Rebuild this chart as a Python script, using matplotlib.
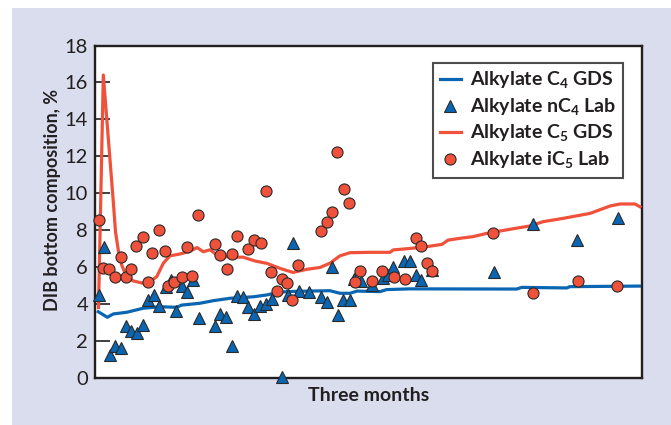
import matplotlib
matplotlib.use("Agg")
import matplotlib.pyplot as plt
from matplotlib.patches import Rectangle

plt.rcParams["font.family"] = ["Lato", "DejaVu Sans"]
plt.rcParams["mathtext.fontset"] = "custom"
plt.rcParams["mathtext.rm"] = "Lato"
plt.rcParams["mathtext.bf"] = "Lato:bold"

RED = "#f0513a"
BLUE = "#0a66b2"
EDGE = "#2a2a2a"
INK = "#231f20"

# Alkylate C4 GDS (continuous analyser trace), day vs %
c4_gds_day = [0.55, 2.07, 3.08, 5.33, 8.12, 10.93, 13.74, 14.58, 17.66, 19.90,
              22.71, 26.62, 28.88, 30.56, 32.24, 36.16, 39.52, 41.20, 42.89,
              44.07, 47.93, 49.06, 52.98, 70.93, 71.77, 79.34, 79.89, 91.55]
c4_gds_val = [3.57, 3.27, 3.45, 3.54, 3.76, 3.84, 3.81, 3.93, 4.03, 4.17,
              4.30, 4.38, 4.48, 4.60, 4.66, 4.69, 4.71, 4.57, 4.57,
              4.69, 4.66, 4.77, 4.81, 4.80, 4.89, 4.86, 4.93, 4.96]

# Alkylate nC4 lab samples
nc4_lab_day = [0.67, 1.56, 2.52, 3.36, 4.32, 5.16, 6.11, 7.01, 8.12, 8.91,
               9.87, 10.81, 11.89, 12.78, 13.62, 14.58, 15.52, 16.43, 17.49,
               20.18, 21.07, 22.03, 23.04, 23.88, 24.94, 25.78, 26.74, 27.75,
               28.71, 29.72, 31.45, 32.51, 33.35, 34.31, 36.04, 38.01, 38.97,
               39.94, 40.82, 41.66, 42.89, 43.61, 44.79, 46.54, 48.39, 49.23,
               50.17, 52.02, 52.98, 53.99, 54.78, 56.73, 67.16, 73.72, 81.15,
               87.91]
nc4_lab_val = [4.48, 7.10, 1.22, 1.73, 1.62, 2.81, 2.53, 2.43, 2.85, 4.21,
               4.48, 3.88, 4.93, 5.29, 3.61, 4.96, 4.66, 5.29, 3.21,
               2.80, 3.43, 3.30, 1.71, 4.42, 4.38, 3.84, 3.43, 3.88,
               3.97, 4.26, 0.05, 4.48, 7.28, 4.69, 4.66, 4.38, 4.11,
               6.00, 3.38, 4.21, 4.21, 5.34, 5.22, 5.02, 5.38, 5.56,
               6.01, 6.32, 6.32, 5.56, 5.29, 5.83, 5.74, 8.32, 7.46,
               8.63]

# Alkylate C5 GDS (continuous analyser trace)
c5_gds_day = [0.59, 1.40, 3.11, 3.45, 3.92, 4.49, 5.33, 6.44, 8.12, 9.25,
              10.38, 11.49, 12.61, 14.30, 15.98, 17.16, 18.22, 19.34, 20.69,
              23.21, 24.89, 26.91, 28.93, 31.11, 33.30, 35.65, 37.84, 39.52,
              41.20, 42.89, 46.25, 49.61, 50.17, 52.98, 55.84, 58.36, 59.37,
              61.39, 63.58, 65.93, 69.80, 73.17, 75.35, 78.72, 83.26, 86.62,
              88.30, 90.82, 91.66]
c5_gds_val = [3.80, 16.40, 9.40, 7.90, 6.90, 6.10, 5.45, 5.24, 5.11, 5.20,
              5.47, 6.20, 6.60, 6.70, 6.85, 7.05, 6.82, 6.93, 6.60,
              6.52, 6.53, 6.32, 6.19, 5.92, 5.70, 5.87, 5.97, 6.20,
              6.60, 6.77, 6.79, 6.79, 6.92, 7.00, 7.10, 7.22, 7.45,
              7.55, 7.64, 7.82, 8.04, 8.22, 8.45, 8.63, 8.90, 9.30,
              9.41, 9.41, 9.26]

# Alkylate iC5 lab samples
ic5_lab_day = [0.72, 1.40, 2.41, 3.36, 4.29, 5.16, 6.05, 6.86, 8.12, 8.88,
               9.64, 10.81, 11.77, 12.24, 13.29, 14.60, 15.42, 16.35, 17.37,
               20.10, 20.97, 22.17, 23.08, 23.92, 25.77, 26.78, 27.87, 28.68,
               29.55, 30.56, 31.40, 32.34, 33.18, 34.09, 37.98, 38.97, 39.93,
               40.65, 41.88, 42.72, 43.78, 44.62, 46.54, 48.27, 50.24, 52.09,
               53.99, 54.88, 55.79, 56.68, 67.02, 73.62, 81.24, 87.74]
ic5_lab_val = [8.54, 5.92, 5.88, 5.44, 6.52, 5.47, 5.90, 7.13, 7.60, 5.20,
               6.74, 8.00, 6.88, 4.98, 5.16, 5.47, 7.10, 5.51, 8.81,
               7.24, 6.64, 5.89, 6.72, 7.66, 6.99, 7.46, 7.27, 10.13,
               5.72, 4.69, 5.33, 5.15, 4.21, 6.10, 7.95, 8.45, 8.99,
               12.23, 10.20, 9.48, 5.20, 5.78, 5.25, 5.80, 5.45, 5.34,
               7.55, 7.13, 6.23, 5.80, 7.86, 4.58, 5.24, 4.96]

y_ticks = [0, 2, 4, 6, 8, 10, 12, 14, 16, 18]

fig = plt.figure(figsize=(6.71, 4.25), dpi=100)
fig.patch.set_facecolor("white")
fig.add_artist(Rectangle((12 / 671, 0), 1 - 12 / 671, 1 - 8 / 425,
                         transform=fig.transFigure, facecolor="#d9dded",
                         edgecolor="none", zorder=-10))

ax = fig.add_axes([95 / 671, 47.4 / 425, 547 / 671, 332.1 / 425])
ax.set_zorder(1)
ax.set_facecolor("white")

ax.plot(c4_gds_day, c4_gds_val, color=BLUE, lw=2.3, zorder=2,
        label=r"Alkylate C$_\mathbf{4}$ GDS")
ax.plot(nc4_lab_day, nc4_lab_val, ls="none", marker="^", ms=8.5,
        mfc=BLUE, mec=EDGE, mew=0.8, zorder=4, clip_on=False,
        label=r"Alkylate nC$_\mathbf{4}$ Lab")
ax.plot(c5_gds_day, c5_gds_val, color=RED, lw=2.3, zorder=3,
        label=r"Alkylate C$_\mathbf{5}$ GDS")
ax.plot(ic5_lab_day, ic5_lab_val, ls="none", marker="o", ms=8,
        mfc=RED, mec=EDGE, mew=0.8, zorder=5, clip_on=False,
        label=r"Alkylate iC$_\mathbf{5}$ Lab")

ax.set_xlim(0, 92)
ax.set_ylim(0, 18)
ax.set_yticks(y_ticks)
ax.set_xticks([])
ax.tick_params(axis="y", direction="in", length=11, width=1.2,
               labelsize=14.5, colors=INK, pad=5)
for s in ax.spines.values():
    s.set_color(INK)
    s.set_linewidth(1.7)

ax.set_ylabel("DIB bottom composition, %", fontsize=13, fontweight="bold",
              color=INK)
ax.yaxis.set_label_coords(-0.062, 0.535)
ax.set_xlabel("Three months", fontsize=14, fontweight="bold",
              color=INK, labelpad=7)

leg = ax.legend(loc="upper right", bbox_to_anchor=(0.965, 0.948),
                fontsize=14, frameon=True, fancybox=False, handlelength=1.1,
                handletextpad=0.45, borderpad=0.35, labelspacing=0.28,
                borderaxespad=0)
leg.get_frame().set_edgecolor(INK)
leg.get_frame().set_linewidth(1.5)
for t in leg.get_texts():
    t.set_fontweight("bold")
    t.set_color(INK)

fig.savefig("out.png", dpi=100)
